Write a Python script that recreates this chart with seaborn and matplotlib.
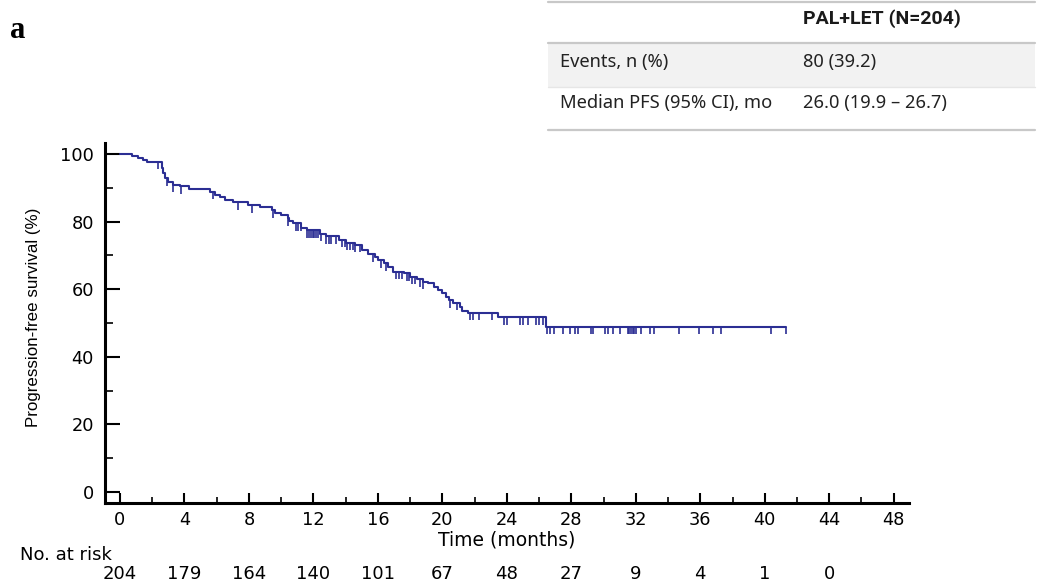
import numpy as np
import pandas as pd
import matplotlib
matplotlib.use("Agg")
import matplotlib.pyplot as plt
import matplotlib.transforms as mtransforms
from matplotlib.lines import Line2D
from matplotlib.patches import Rectangle
from matplotlib.ticker import MultipleLocator
import seaborn as sns

# Kaplan-Meier step data: time (months) and survival (%) after each step
step_times = [0, 0.72, 1.14, 1.45, 1.65, 2.58, 2.65, 2.8, 3.0, 3.3, 3.7, 4.3,
              5.6, 5.9, 6.2, 6.5, 7.0, 7.95, 8.7, 9.4, 9.6, 10.0, 10.4, 10.5,
              10.75, 11.25, 11.6, 12.4, 12.8, 13.6, 14.05, 14.6, 15.0, 15.4,
              15.8, 16.0, 16.4, 16.6, 16.95, 17.6, 18.0, 18.4, 18.8, 19.1, 19.5,
              19.7, 19.95, 20.2, 20.4, 20.65, 21.1, 21.2, 21.6, 23.45, 26.4, 41.3]
step_surv = [100, 99.5, 99.0, 98.2, 97.7, 96.0, 94.5, 92.8, 91.8, 91.0, 90.5, 89.8,
             88.8, 87.9, 87.4, 86.4, 85.7, 84.9, 84.4, 83.4, 82.6, 81.9, 81.0, 80.3,
             79.5, 78.0, 77.4, 76.5, 75.7, 74.6, 73.8, 73.1, 71.6, 70.4,
             69.6, 68.6, 67.7, 66.7, 65.2, 64.7, 63.7, 62.9, 62.2, 61.9, 60.7,
             59.8, 58.8, 57.8, 56.8, 56.0, 54.8, 53.6, 53.0, 51.7, 48.9, 48.9]

# Censoring times (months)
censor_times = [2.37, 2.9, 3.3, 3.8, 5.8, 7.3, 8.2, 9.5, 10.4, 10.9, 11.05, 11.2,
                11.6, 11.75, 11.85, 11.95, 12.05, 12.15, 12.3, 12.45,
                12.8, 12.95, 13.1, 13.4, 13.8, 13.95, 14.1, 14.3, 14.45, 14.6, 14.9,
                15.7, 16.2, 16.5, 17.1, 17.3, 17.5, 17.8, 17.95, 18.1, 18.3, 18.6, 18.8,
                20.5, 20.9, 21.7, 21.9, 22.3, 23.1, 23.8, 24.0, 24.8, 25.0, 25.3,
                25.8, 26.0, 26.25, 26.5, 26.7, 26.9, 27.5, 27.9, 28.2, 28.4, 29.25,
                29.35, 30.1, 30.3, 30.6, 31.0, 31.5, 31.6, 31.7, 31.8, 31.9, 32.0,
                32.3, 32.9, 33.1, 34.7, 35.9, 36.8, 37.3, 40.4, 41.3]

# Number at risk
risk_times = [0, 4, 8, 12, 16, 20, 24, 28, 32, 36, 40, 44]
risk_counts = [204, 179, 164, 140, 101, 67, 48, 27, 9, 4, 1, 0]

# Summary table
table_header = "PAL+LET (N=204)"
table_rows = [("Events, n (%)", "80 (39.2)"),
              ("Median PFS (95% CI), mo", "26.0 (19.9 \u2013 26.7)")]

line_color = "#2B2E93"

sns.set_style("ticks")
plt.rcParams["font.family"] = ["DejaVu Sans"]
plt.rcParams.update({"text.color": "black", "axes.labelcolor": "black",
                     "xtick.color": "black", "ytick.color": "black",
                     "axes.edgecolor": "black"})

W, H = 1038, 584
fig = plt.figure(figsize=(W / 100, H / 100), dpi=100)


def fx(px):
    return px / W


def fy(py):
    return 1 - py / H


ax = fig.add_axes([fx(105), fy(503), fx(909) - fx(105), fy(143) - fy(503)])

km = pd.DataFrame({"time": step_times, "surv": step_surv})
sns.lineplot(data=km, x="time", y="surv", drawstyle="steps-post",
             color=line_color, lw=1.5, estimator=None, ax=ax)

# censor marks hang below the curve
st = np.asarray(step_times)
sv = np.asarray(step_surv)
ct = np.asarray(censor_times)
cs = sv[np.searchsorted(st, ct, side="right") - 1]
ax.vlines(ct, cs - 2.2, cs, color=line_color, lw=1.2)

ax.set_xlim(-0.93, 48.95)
ax.set_ylim(-3.26, 103.3)
ax.xaxis.set_major_locator(MultipleLocator(4))
ax.xaxis.set_minor_locator(MultipleLocator(2))
ax.yaxis.set_major_locator(MultipleLocator(20))
ax.yaxis.set_minor_locator(MultipleLocator(10))
ax.tick_params(axis="y", which="major", direction="in", length=11, width=1.5,
               labelsize=12.8, pad=8)
ax.tick_params(axis="y", which="minor", direction="in", length=6, width=1.2)
ax.tick_params(axis="x", which="major", direction="in", length=7.5, width=1.5,
               labelsize=12.8, pad=6)
ax.tick_params(axis="x", which="minor", direction="in", length=4, width=1.2)
for s in ("top", "right"):
    ax.spines[s].set_visible(False)
for s in ("left", "bottom"):
    ax.spines[s].set_linewidth(2.2)

ax.set_xlabel("Time (months)", fontsize=13.5, labelpad=1)
ax.set_ylabel("Progression-free survival (%)", fontsize=12.2,
              family=["Liberation Sans", "DejaVu Sans"])
ax.yaxis.set_label_coords(-0.08, 0.517)

# number at risk row
blend = mtransforms.blended_transform_factory(ax.transData, fig.transFigure)
fig.text(fx(20), fy(555), "No. at risk", fontsize=13, ha="left", va="center")
for t, n in zip(risk_times, risk_counts):
    ax.text(t, fy(574), str(n), transform=blend, fontsize=13,
            ha="center", va="center", clip_on=False)

# panel letter
fig.text(fx(10), fy(30), "a", fontsize=22, fontweight="bold",
         family=["Liberation Serif", "DejaVu Serif"], ha="left", va="center")

# summary table
tfont = ["Noto Sans", "DejaVu Sans"]
fig.add_artist(Rectangle((fx(548), fy(87)), fx(1035) - fx(548), fy(43) - fy(87),
                         transform=fig.transFigure, facecolor="#F2F2F2",
                         edgecolor="none", zorder=0))
for py in (2, 43, 87, 130):
    lw = 1.0 if py == 87 else 1.6
    col = "#E6E6E6" if py == 87 else "#C8C8C8"
    fig.add_artist(Line2D([fx(548), fx(1035)], [fy(py), fy(py)],
                          transform=fig.transFigure, color=col, lw=lw))
fig.text(fx(803), fy(19), table_header, fontsize=14, fontweight="bold",
         family=["Roboto", "DejaVu Sans"], ha="left", va="center",
         color="#1A1A1A")
for (lab, val), py in zip(table_rows, (62, 103)):
    fig.text(fx(560), fy(py), lab, fontsize=13.2, family=tfont,
             ha="left", va="center", color="#222222")
    fig.text(fx(803), fy(py), val, fontsize=13.2, family=tfont,
             ha="left", va="center", color="#222222")

fig.savefig("out.png", dpi=100, facecolor="white")
